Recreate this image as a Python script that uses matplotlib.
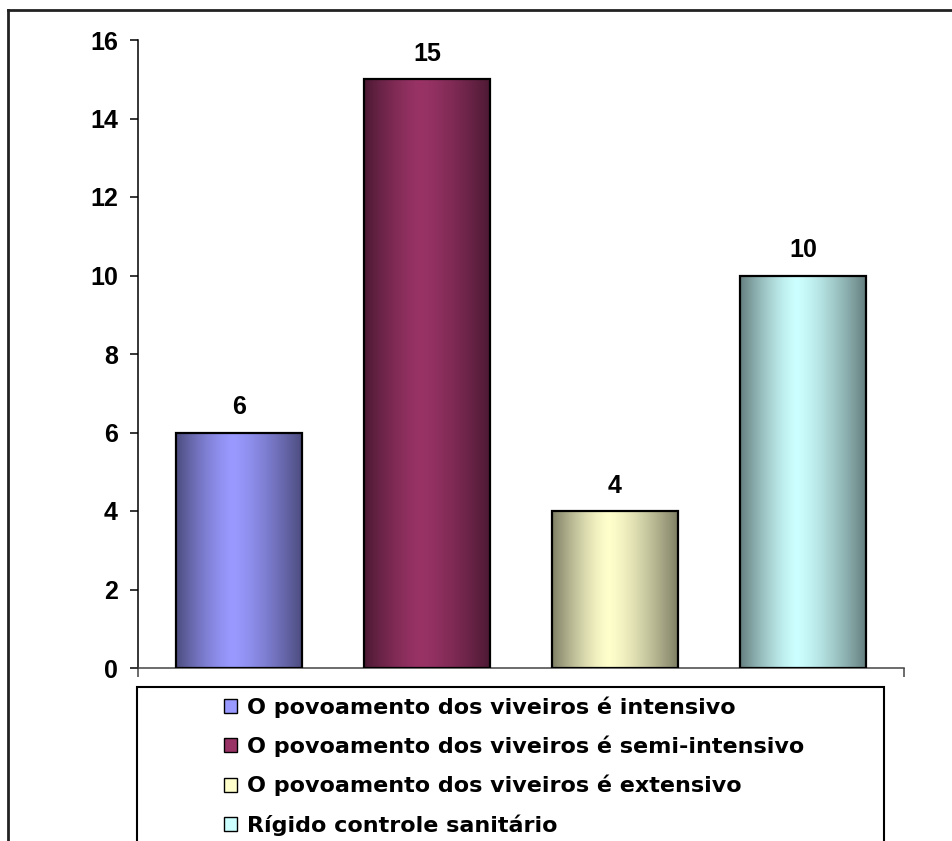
import numpy as np
import matplotlib
matplotlib.use("Agg")
import matplotlib.pyplot as plt
from matplotlib.patches import Patch, Rectangle
from matplotlib.lines import Line2D
from matplotlib.colors import to_rgb

categories = [
    "O povoamento dos viveiros é intensivo",
    "O povoamento dos viveiros é semi-intensivo",
    "O povoamento dos viveiros é extensivo",
    "Rígido controle sanitário",
]
values = [6, 15, 4, 10]
colors = ["#9999ff", "#993366", "#ffffcc", "#ccffff"]
yticks = [0, 2, 4, 6, 8, 10, 12, 14, 16]

W, H = 953, 841
fig = plt.figure(figsize=(W / 100, H / 100), dpi=100)

def fx(px):
    return px / W

def fy(py):
    return 1 - py / H

# plot area in pixel terms
ax = fig.add_axes([fx(138), fy(668), fx(904) - fx(138), fy(40) - fy(668)])

x = np.arange(len(values))
bar_w = 0.67
ax.set_xlim(-0.537, 3.537)
ax.set_ylim(0, 16)

# cylinder-like shading: dark edges, light band a bit left of centre
t = np.linspace(0, 1, 256)
peak = 0.45
d = np.where(t < peak, (peak - t) / peak, (t - peak) / (1 - peak))
shade = 1 - 0.5 * d ** 1.4

bars = ax.bar(x, values, width=bar_w, color=colors, edgecolor="none", zorder=2)
for b, c in zip(bars, colors):
    rgb = np.array(to_rgb(c))
    img = (shade[:, None] * rgb[None, :])[None, :, :]
    x0, y0 = b.get_x(), b.get_y()
    im = ax.imshow(img, extent=[x0, x0 + b.get_width(), y0, y0 + b.get_height()],
                   aspect="auto", interpolation="bilinear", zorder=3)
    im.set_clip_path(b)
ax.bar(x, values, width=bar_w, facecolor="none", edgecolor="black", linewidth=1.6, zorder=4)

for xi, v in zip(x, values):
    ax.annotate(str(v), (xi, v), xytext=(0, 13), textcoords="offset points",
                ha="center", va="baseline", fontsize=18, fontweight="bold",
                family="Liberation Sans")

for s in ["top", "right"]:
    ax.spines[s].set_visible(False)
ax.spines["left"].set_linewidth(1.1)
ax.spines["bottom"].set_linewidth(1.1)
ax.spines["bottom"].set_color("#444444")

ax.set_yticks(yticks)
ax.set_yticklabels([str(v) for v in yticks], fontsize=18, fontweight="bold",
                   family="Liberation Sans")
ax.tick_params(axis="y", length=5.8, width=1.1, pad=8.6)
ax.set_xticks([-0.537, 3.537])
ax.set_xticklabels([])
ax.tick_params(axis="x", length=6.5, width=1.1, color="#444444")

# chart frame (only top and left edges fall inside the image)
fig.add_artist(Line2D([fx(8), fx(8)], [fy(10), 0], transform=fig.transFigure,
                      color="#222222", lw=2))
fig.add_artist(Line2D([fx(8), 1], [fy(10), fy(10)], transform=fig.transFigure,
                      color="#222222", lw=2))

# legend box
fig.add_artist(Rectangle((fx(137), -0.01), fx(884) - fx(137), fy(687) + 0.01,
                         transform=fig.transFigure, facecolor="none",
                         edgecolor="black", lw=1.5))

handles = [Patch(facecolor=c, edgecolor="black", linewidth=1.0) for c in colors]
fig.legend(handles, categories, loc="upper left",
           bbox_to_anchor=(fx(224), fy(696)), frameon=False,
           prop={"family": "DejaVu Sans", "weight": "bold", "size": 16},
           handlelength=0.59, handleheight=0.59, handletextpad=0.45,
           labelspacing=0.81, borderpad=0, borderaxespad=0)

fig.savefig("out.png", dpi=100)
